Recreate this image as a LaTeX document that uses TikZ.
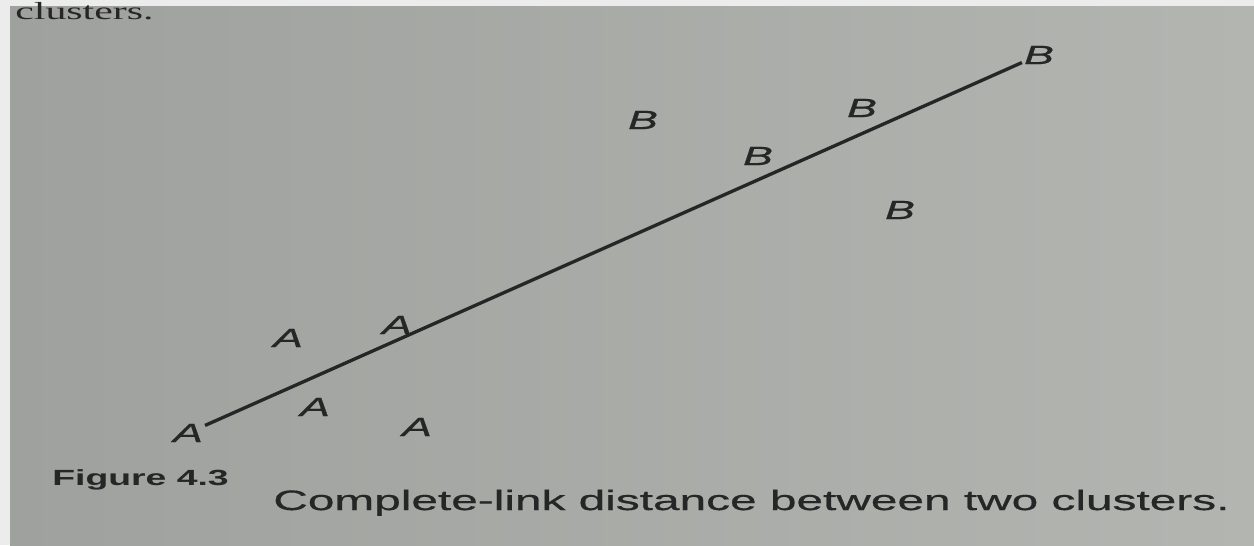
\documentclass[tikz,border=0pt]{standalone}
\usepackage{fontspec}
\setmainfont{Liberation Serif}
\setsansfont{Liberation Sans}
\newfontface\inksans{Liberation Sans}[FakeBold=0.5]
\newfontface\inkslant{Liberation Sans Italic}[FakeBold=0.6]
\usepackage{graphicx}
\usepackage{tikz}
\definecolor{page}{HTML}{9FA19E}
\definecolor{pagelight}{HTML}{B3B5B1}
\definecolor{strip}{HTML}{ECECEC}
\definecolor{ink}{HTML}{262626}
% the photo is stretched sideways, so is the type
\newcommand{\wide}[1]{\scalebox{1.7}[1]{#1}}
\tikzset{
  pnt/.style={inner sep=1pt,text=ink,font=\inkslant\fontsize{15}{18}\selectfont},
  lnk/.style={draw=ink,line width=1.9pt},
  captxt/.style={inner sep=0pt,text=ink,anchor=base west},
}

\begin{document}
\begin{tikzpicture}[x=0.02cm,y=-0.02cm]
\useasboundingbox (0,0) rectangle (1254,545);
\clip (0,0) rectangle (1254,545);
\fill[strip] (0,0) rectangle (1254,545);
\shade[left color=page,right color=pagelight] (10,6) rectangle (1254,545);

% running text at the top of the page
\node[captxt,font=\rmfamily\fontsize{14}{17}\selectfont] (prev) at (15,19) {\wide{clusters.}};

% cluster A (lower left)
\node[pnt] (a1) at (188,433) {\wide{A}};
\node[pnt] (a2) at (288,338) {\wide{A}};
\node[pnt] (a3) at (397,325) {\wide{A}};
\node[pnt] (a4) at (315,407) {\wide{A}};
\node[pnt] (a5) at (417,427) {\wide{A}};

% cluster B (upper right)
\node[pnt] (b1) at (1039,55) {\wide{B}};
\node[pnt] (b2) at (862,108) {\wide{B}};
\node[pnt] (b3) at (643,120) {\wide{B}};
\node[pnt] (b4) at (758,156) {\wide{B}};
\node[pnt] (b5) at (900,210) {\wide{B}};

% complete link
\draw[lnk] (a1) -- (b1);

% caption
\node[captxt,font=\sffamily\bfseries\fontsize{12.5}{15}\selectfont] (fig) at (52,485) {\wide{Figure 4.3}};
\node[captxt,font=\inksans\fontsize{16}{19}\selectfont] (title) at (273,510) {\wide{Complete-link distance between two clusters.}};
\end{tikzpicture}
\end{document}
